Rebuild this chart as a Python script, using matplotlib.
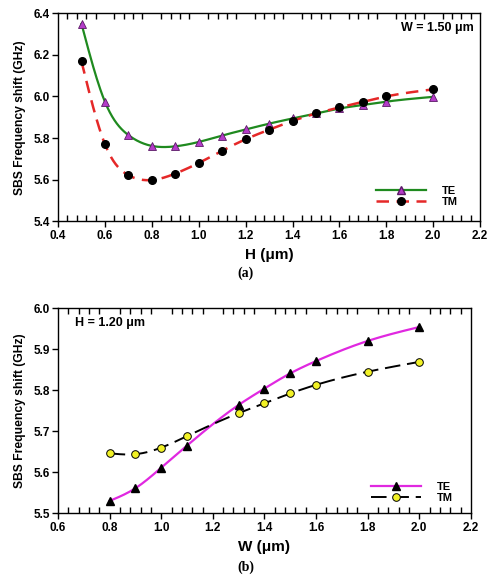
import numpy as np
import matplotlib
matplotlib.use("Agg")
import matplotlib.pyplot as plt
from matplotlib.ticker import MultipleLocator

# panel (a): W = 1.50 um, sweep H
h_vals = [0.5, 0.6, 0.7, 0.8, 0.9, 1.0, 1.1, 1.2, 1.3, 1.4, 1.5, 1.6, 1.7, 1.8, 2.0]
te_a = [6.349, 5.974, 5.814, 5.762, 5.760, 5.781, 5.812, 5.841, 5.869, 5.894, 5.918, 5.942, 5.959, 5.975, 5.998]
tm_a = [6.168, 5.770, 5.621, 5.598, 5.629, 5.680, 5.739, 5.794, 5.840, 5.882, 5.918, 5.947, 5.974, 6.000, 6.034]

# panel (b): H = 1.20 um, sweep W
w_vals = [0.8, 0.9, 1.0, 1.1, 1.3, 1.4, 1.5, 1.6, 1.8, 2.0]
te_b = [5.530, 5.561, 5.611, 5.665, 5.764, 5.804, 5.841, 5.871, 5.920, 5.954]
tm_b = [5.646, 5.644, 5.660, 5.688, 5.744, 5.768, 5.792, 5.813, 5.845, 5.869]


def smooth(x, y, n=300):
    # natural cubic spline through the points, just for drawing the line
    x = np.asarray(x, float)
    y = np.asarray(y, float)
    k = len(x)
    h = np.diff(x)
    A = np.zeros((k, k))
    r = np.zeros(k)
    A[0, 0] = A[-1, -1] = 1
    for i in range(1, k - 1):
        A[i, i - 1] = h[i - 1]
        A[i, i] = 2 * (h[i - 1] + h[i])
        A[i, i + 1] = h[i]
        r[i] = 3 * ((y[i + 1] - y[i]) / h[i] - (y[i] - y[i - 1]) / h[i - 1])
    c = np.linalg.solve(A, r)
    xs = np.linspace(x[0], x[-1], n)
    idx = np.clip(np.searchsorted(x, xs) - 1, 0, k - 2)
    dx = xs - x[idx]
    b = (y[1:] - y[:-1]) / h - h * (2 * c[:-1] + c[1:]) / 3
    d = (c[1:] - c[:-1]) / (3 * h)
    ys = y[idx] + b[idx] * dx + c[idx] * dx ** 2 + d[idx] * dx ** 3
    return xs, ys


def style_axes(ax):
    ax.tick_params(axis="x", which="major", direction="out", length=4, width=1,
                   top=False, labelsize=8.5, pad=2)
    ax.tick_params(axis="x", which="minor", direction="in", length=4, width=1,
                   top=True, bottom=True)
    ax.tick_params(axis="y", which="major", direction="out", length=4, width=1,
                   right=False, labelsize=8.5, pad=2)
    ax.xaxis.set_minor_locator(MultipleLocator(0.04))
    for s in ax.spines.values():
        s.set_linewidth(1.0)
    for lab in ax.get_xticklabels() + ax.get_yticklabels():
        lab.set_fontweight("bold")


plt.rcParams['font.family'] = ['Liberation Sans', 'DejaVu Sans']

fig = plt.figure(figsize=(4.92, 5.76), dpi=100)

# ---- (a)
ax1 = fig.add_axes([0.118, 0.616, 0.858, 0.361])
xs, ys = smooth(h_vals, te_a)
ax1.plot(xs, ys, color="#1f8a1f", lw=1.6)
ax1.plot(h_vals, te_a, ls="none", marker="^", ms=5.5, mfc="#b43cc8", mec="#5a1a66", mew=0.6)
xs, ys = smooth(h_vals, tm_a)
ax1.plot(xs, ys, color="#e52828", lw=1.8, dashes=(5, 3))
ax1.plot(h_vals, tm_a, ls="none", marker="o", ms=5.5, mfc="black", mec="black")
ax1.plot([], [], color="#1f8a1f", lw=1.6, marker="^", ms=5.5, mfc="#b43cc8", mec="#5a1a66", label="TE")
ax1.plot([], [], color="#e52828", lw=1.8, dashes=(5, 3), marker="o", ms=5.5, mfc="black", mec="black", label="TM")
ax1.set_xlim(0.4, 2.2)
ax1.set_ylim(5.4, 6.4)
ax1.set_xticks(np.arange(0.4, 2.21, 0.2))
ax1.set_yticks(np.arange(5.4, 6.41, 0.2))
ax1.set_xticklabels([f"{v:.1f}" for v in np.arange(0.4, 2.21, 0.2)])
ax1.set_yticklabels([f"{v:.1f}" for v in np.arange(5.4, 6.41, 0.2)])
style_axes(ax1)
ax1.set_xlabel("H (μm)", fontsize=11, fontweight="bold", labelpad=5)
ax1.set_ylabel("SBS Frequency shift (GHz)", fontsize=8.7, fontweight="bold", labelpad=5)
ax1.text(0.985, 0.93, "W = 1.50 μm", transform=ax1.transAxes, ha="right", va="center",
         fontsize=9, fontweight="bold")
ax1.legend(loc="lower right", bbox_to_anchor=(0.97, 0.02), frameon=False, handlelength=4.5,
           prop={"weight": "bold", "size": 8}, labelspacing=0.1, handletextpad=1.4)
fig.text(0.5, 0.526, "(a)", ha="center", va="center", fontsize=10, fontweight="bold",
         family="Liberation Serif")

# ---- (b)
ax2 = fig.add_axes([0.118, 0.109, 0.839, 0.356])
xs, ys = smooth(w_vals, te_b)
ax2.plot(xs, ys, color="#e028e0", lw=1.6)
ax2.plot(w_vals, te_b, ls="none", marker="^", ms=5.5, mfc="black", mec="black")
xs, ys = smooth(w_vals, tm_b)
ax2.plot(xs, ys, color="black", lw=1.4, dashes=(8, 3.5))
ax2.plot(w_vals, tm_b, ls="none", marker="o", ms=5.5, mfc="#f2f226", mec="black", mew=0.7)
ax2.plot([], [], color="#e028e0", lw=1.6, marker="^", ms=5.5, mfc="black", mec="black", label="TE")
ax2.plot([], [], color="black", lw=1.4, dashes=(8, 3.5), marker="o", ms=5.5, mfc="#f2f226",
         mec="black", mew=0.7, label="TM")
ax2.set_xlim(0.6, 2.2)
ax2.set_ylim(5.5, 6.0)
ax2.set_xticks(np.arange(0.6, 2.21, 0.2))
ax2.set_yticks(np.arange(5.5, 6.01, 0.1))
ax2.set_xticklabels([f"{v:.1f}" for v in np.arange(0.6, 2.21, 0.2)])
ax2.set_yticklabels([f"{v:.1f}" for v in np.arange(5.5, 6.01, 0.1)])
style_axes(ax2)
ax2.set_xlabel("W (μm)", fontsize=11, fontweight="bold", labelpad=5)
ax2.set_ylabel("SBS Frequency shift (GHz)", fontsize=8.7, fontweight="bold", labelpad=5)
ax2.text(0.04, 0.93, "H = 1.20 μm", transform=ax2.transAxes, ha="left", va="center",
         fontsize=9, fontweight="bold")
ax2.legend(loc="lower right", bbox_to_anchor=(0.98, 0.0), frameon=False, handlelength=4.5,
           prop={"weight": "bold", "size": 8}, labelspacing=0.1, handletextpad=1.4)
fig.text(0.5, 0.016, "(b)", ha="center", va="center", fontsize=10, fontweight="bold",
         family="Liberation Serif")

fig.savefig("out.png", dpi=100)
